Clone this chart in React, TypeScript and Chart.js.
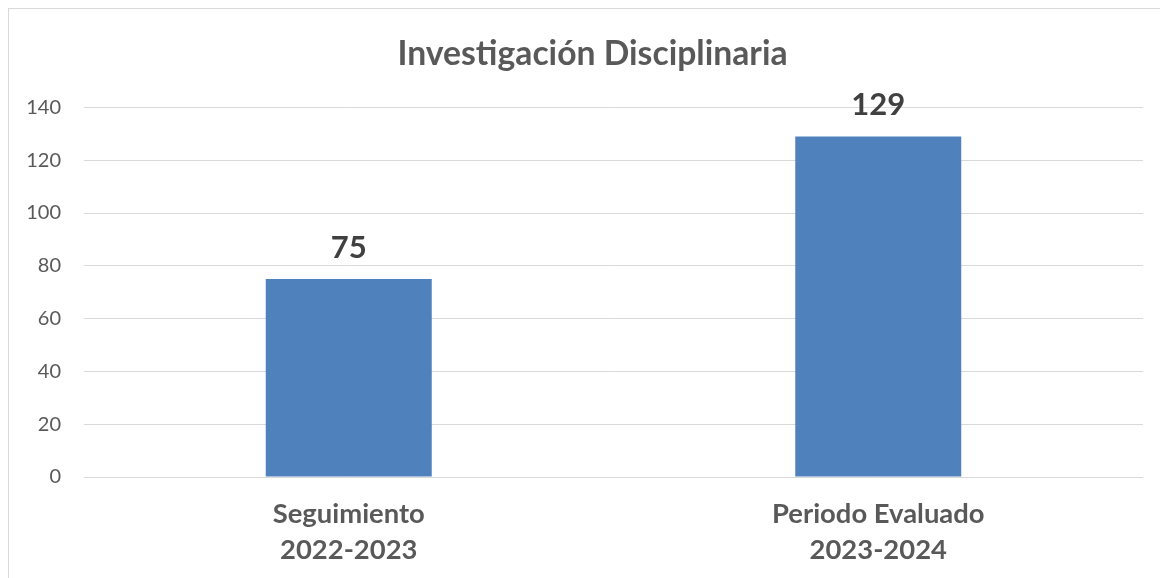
import React, { useEffect, useRef } from "react";
import { Chart, registerables } from "chart.js";

Chart.register(...registerables);

const chartTitle = "Investigación Disciplinaria";
const categories: string[][] = [
  ["Seguimiento", "2022-2023"],
  ["Periodo Evaluado", "2023-2024"],
];
const values: number[] = [75, 129];
const yMin = 0;
const yMax = 140;
const yStep = 20;

const FONT = "Lato, 'Open Sans', sans-serif";

const valueLabels = {
  id: "valueLabels",
  afterDatasetsDraw(chart: any) {
    const ctx = chart.ctx;
    const meta = chart.getDatasetMeta(0);
    ctx.save();
    ctx.font = `bold 31px ${FONT}`;
    ctx.fillStyle = "#404040";
    ctx.textAlign = "center";
    ctx.textBaseline = "alphabetic";
    meta.data.forEach((bar: any, i: number) => {
      ctx.fillText(String(values[i]), bar.x, bar.y - 21);
    });
    ctx.restore();
  },
};

export default function App() {
  const canvasRef = useRef<HTMLCanvasElement | null>(null);

  useEffect(() => {
    document.body.style.overflow = "hidden";
    const canvas = canvasRef.current;
    if (!canvas) return;
    const chart = new Chart(canvas, {
      type: "bar",
      data: {
        labels: categories,
        datasets: [
          {
            data: values,
            backgroundColor: "#4F81BD",
            borderWidth: 0,
            categoryPercentage: 1,
            barPercentage: 0.3135,
          },
        ],
      },
      options: {
        responsive: false,
        animation: false,
        layout: { padding: { left: 0, right: 0, top: 0, bottom: 0 } },
        plugins: {
          legend: { display: false },
          tooltip: { enabled: false },
          title: {
            display: true,
            text: chartTitle,
            color: "#595959",
            font: { family: FONT, size: 33.7, weight: "bold" },
            padding: { top: 25, bottom: 33 },
          },
        },
        scales: {
          x: {
            grid: { display: false, drawTicks: false },
            border: { display: false },
            ticks: {
              color: "#595959",
              font: { family: FONT, size: 27.4, weight: "bold", lineHeight: 1.31 },
              padding: 19,
              maxRotation: 0,
              autoSkip: false,
            },
            afterFit(scale: any) {
              scale.height = 101;
            },
          },
          y: {
            min: yMin,
            max: yMax,
            ticks: {
              stepSize: yStep,
              color: "#595959",
              font: { family: FONT, size: 20 },
              padding: 23,
            },
            grid: { color: "#D9D9D9", lineWidth: 1, drawTicks: false },
            border: { display: false },
            afterFit(scale: any) {
              scale.width = 75;
            },
          },
          spacer: {
            type: "linear",
            position: "right",
            display: true,
            grid: { display: false, drawTicks: false },
            border: { display: false },
            ticks: { display: false },
            afterFit(scale: any) {
              scale.width = 33;
            },
          },
        },
      },
      plugins: [valueLabels],
    });
    return () => chart.destroy();
  }, []);

  return (
    <div
      style={{
        width: 1160,
        height: 570,
        overflow: "hidden",
        borderLeft: "1px solid #D9D9D9",
        borderTop: "1px solid #D9D9D9",
        boxSizing: "border-box",
        background: "#fff",
      }}
    >
      <canvas
        ref={canvasRef}
        width={1167}
        height={569}
        style={{ display: "block", width: 1167, height: 569 }}
      />
    </div>
  );
}
